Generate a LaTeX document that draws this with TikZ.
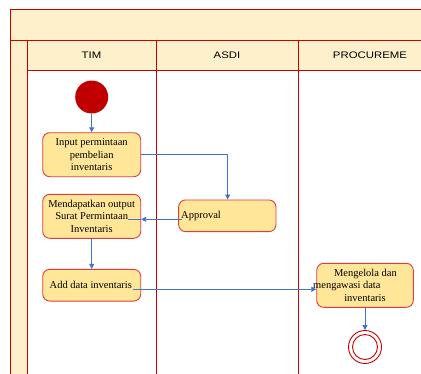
\documentclass[tikz,border=0pt]{standalone}
\usepackage{fontspec}
\setmainfont{Liberation Serif}
\setsansfont{Liberation Sans}
\usetikzlibrary{arrows.meta}
\definecolor{laneline}{HTML}{CC0000}
\definecolor{headfill}{HTML}{FFF0CC}
\definecolor{actfill}{HTML}{FFE699}
\definecolor{actline}{HTML}{E03C3C}
\definecolor{flow}{HTML}{4472C4}
\definecolor{startred}{HTML}{C00000}
\tikzset{
  lanehead/.style={font=\sffamily\fontsize{9.5}{10}\selectfont},
  acttext/.style={font=\fontsize{10.5}{12.5}\selectfont, inner sep=0pt},
  activity/.style={draw=actline, line width=0.9pt, fill=actfill, rounded corners=7pt,
    inner sep=0pt, align=center, font=\fontsize{10.5}{12.5}\selectfont},
  flowline/.style={draw=flow, line width=0.9pt, -{Triangle[length=5pt,width=5pt]}},
  plainflow/.style={draw=flow, line width=0.9pt},
}
\begin{document}
\begin{tikzpicture}[x=1pt,y=-1pt]
\useasboundingbox (0,0) rectangle (421,373);
\fill[white] (0,0) rectangle (421,373);

% pool frame, title band and left strip
\fill[headfill] (10,9) rectangle (430,40);
\fill[headfill] (10,40) rectangle (27,380);
\fill[headfill] (27,40) rectangle (430,70.5);
\draw[laneline, line width=0.9pt] (10,380) -- (10,9) -- (430,9);
\draw[laneline, line width=0.9pt] (10,40) -- (430,40);
\draw[laneline, line width=0.9pt] (27,70.5) -- (430,70.5);
\draw[laneline, line width=0.9pt] (27,40) -- (27,380);
\draw[laneline, line width=0.9pt] (156,40) -- (156,380);
\draw[laneline, line width=0.9pt] (298.5,40) -- (298.5,380);

% lane titles
\node[lanehead] (tim) at (91.5,55.5) {\scalebox{1.2}[1]{TIM}};
\node[lanehead] (asdi) at (227,55.5) {\scalebox{1.2}[1]{ASDI}};
\node[lanehead] (proc) at (370,55.5) {\scalebox{1.2}[1]{PROCUREME}};

% start and end states
\node[circle, fill=startred, minimum size=33pt, inner sep=0pt] (start) at (91.7,97) {};
\node[circle, draw=laneline, line width=0.9pt, fill=white, minimum size=33pt, inner sep=0pt] (end) at (365,347) {};
\node[circle, draw=laneline, line width=0.9pt, minimum size=25pt, inner sep=0pt] (endin) at (365,347) {};

% activities
\node[activity, minimum width=98pt, minimum height=44pt] (input) at (91.7,154.7)
  {Input permintaan\\pembelian\\inventaris};
\node[activity, minimum width=98pt, minimum height=44pt] (output) at (91.7,216.3)
  {Mendapatkan output\\Surat Permintaan\\Inventaris};
\node[activity, minimum width=98pt, minimum height=31.7pt] (add) at (91.7,285.2) {};
\node[acttext, anchor=west] (addtxt) at (49.5,285) {Add data inventaris};
\node[activity, minimum width=97.3pt, minimum height=31.7pt] (approval) at (227.3,215.8) {};
\node[acttext, anchor=west] (apptxt) at (181,215.5) {Approval};
\node[activity, minimum width=96.6pt, minimum height=44pt] (kelola) at (365,285.3) {};
\node[acttext] (k1) at (365.5,273.5) {Mengelola dan};
\node[acttext, anchor=west] (k2) at (313,285.8) {mengawasi data};
\node[acttext] (k3) at (365,298) {inventaris};

% control flows
\draw[flowline] (start) -- (input);
\draw[flowline] (input.east |- 0,154.3) -| (approval.north -| 227.7,0);
\coordinate (appfrom) at (181.7,219.3);
\coordinate (outin) at (128.3,219.3);
\draw[flowline] (appfrom) -- (output.east |- appfrom);
\draw[plainflow] (output.east |- appfrom) -- (outin);
\draw[flowline] (output) -- (add);
\coordinate (addfrom) at (133.3,289.3);
\draw[flowline] (addfrom) -- (kelola.west |- addfrom);
\draw[flowline] (kelola) -- (end);
\end{tikzpicture}
\end{document}
